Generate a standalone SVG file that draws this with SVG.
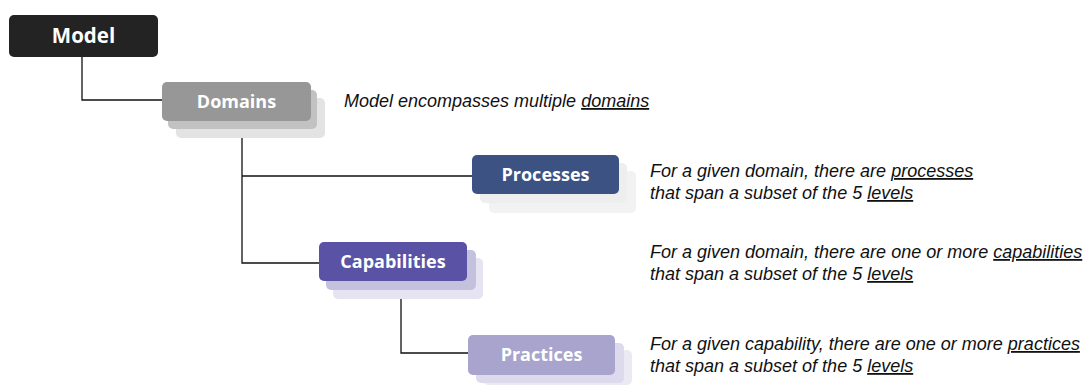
<svg xmlns="http://www.w3.org/2000/svg" width="1090" height="385" viewBox="0 0 1090 385">
<style>
.lbl{font-family:"Open Sans","Noto Sans",sans-serif;font-weight:bold;font-size:18px;fill:#fff;text-anchor:middle}
.desc{font-family:"Liberation Sans",Arial,sans-serif;font-style:italic;font-size:18px;fill:#111}
.u{text-decoration:underline}
.con{fill:none;stroke:#111;stroke-width:1.3}
</style>
<rect width="1090" height="385" fill="#fff"/>
<g id="connectors">
<polyline class="con" points="82,57 82,100 162,100"/>
<polyline class="con" points="242,121 242,263 320,263"/>
<line class="con" x1="242" y1="176" x2="472" y2="176"/>
<polyline class="con" points="401,281 401,353 468,353"/>
</g>
<g id="model">
<rect x="9" y="15" width="149" height="42" rx="5" fill="#232323"/>
<text class="lbl" x="83.5" y="43" style="font-size:20.5px">Model</text>
</g>
<g id="domains">
<rect x="176" y="98" width="149" height="40" rx="5" fill="#e3e3e3"/>
<rect x="168" y="90" width="149" height="39" rx="5" fill="#c2c2c2"/>
<rect x="162" y="82" width="149" height="39" rx="5" fill="#979797"/>
<text class="lbl" x="236.5" y="108">Domains</text>
</g>
<g id="processes">
<rect x="489" y="171" width="147" height="42" rx="5" fill="#f2f2f2"/>
<rect x="480" y="163" width="147" height="40" rx="5" fill="#eeeeee"/>
<rect x="472" y="155" width="147" height="39" rx="5" fill="#3b5283"/>
<text class="lbl" x="545.5" y="181">Processes</text>
</g>
<g id="capabilities">
<rect x="333" y="258" width="150" height="41" rx="5" fill="#e6e4f2"/>
<rect x="326" y="250" width="150" height="40" rx="5" fill="#c4c1de"/>
<rect x="319" y="242" width="148" height="39" rx="5" fill="#5a52a5"/>
<text class="lbl" x="393" y="268">Capabilities</text>
</g>
<g id="practices">
<rect x="483" y="350" width="149" height="35" rx="5" fill="#ebe9f4"/>
<rect x="476" y="343" width="148" height="40" rx="5" fill="#dcdaec"/>
<rect x="468" y="335" width="147" height="40" rx="5" fill="#a8a4cd"/>
<text class="lbl" x="541.5" y="361">Practices</text>
</g>
<g id="descriptions">
<text class="desc" x="344" y="107">Model encompasses multiple <tspan class="u">domains</tspan></text>
<text class="desc" x="650" y="177">For a given domain, there are <tspan class="u">processes</tspan></text>
<text class="desc" x="650" y="199">that span a subset of the 5 <tspan class="u">levels</tspan></text>
<text class="desc" x="650" y="258">For a given domain, there are one or more <tspan class="u">capabilities</tspan></text>
<text class="desc" x="650" y="280">that span a subset of the 5 <tspan class="u">levels</tspan></text>
<text class="desc" x="650" y="350">For a given capability, there are one or more <tspan class="u">practices</tspan></text>
<text class="desc" x="650" y="372">that span a subset of the 5 <tspan class="u">levels</tspan></text>
</g>
</svg>
